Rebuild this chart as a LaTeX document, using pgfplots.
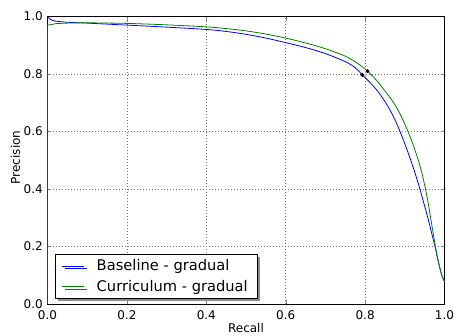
\documentclass[border=0pt]{standalone}
\usepackage{fontspec}
\setmainfont{DejaVu Sans}
\usepackage{pgfplots}
\pgfplotsset{compat=1.18}
\usetikzlibrary{shadows}
\definecolor{mplblue}{rgb}{0,0,1}
\definecolor{mplgreen}{rgb}{0,0.5,0}
\begin{document}
\begin{tikzpicture}
\begin{axis}[
  scale only axis,
  width=297.75pt, height=215.6pt,
  xmin=0, xmax=1, ymin=0, ymax=1,
  xtick={0,0.2,0.4,0.6,0.8,1.0},
  ytick={0,0.2,0.4,0.6,0.8,1.0},
  xticklabels={0.0,0.2,0.4,0.6,0.8,1.0},
  yticklabels={0.0,0.2,0.4,0.6,0.8,1.0},
  /pgf/number format/assume math mode=true,
  tick label style={font=\fontsize{9}{11}\selectfont},
  xticklabel style={yshift=-1.2pt},
  label style={font=\fontsize{9}{11}\selectfont},
  xlabel={Recall}, ylabel={Precision},
  xlabel style={at={(axis description cs:0.5,-0.0835)},anchor=center},
  ylabel style={at={(axis description cs:-0.0806,0.51)},anchor=center},
  grid=major,
  major grid style={black!55, line width=0.5pt, dash pattern=on 0.75pt off 1.5pt},
  tick align=inside,
  major tick length=3pt,
  axis line style={black, line width=0.6pt},
  legend style={at={(axis description cs:0.0189,0.0174)}, anchor=south west,
    draw=black, fill=white, line width=0.6pt,
    drop shadow={shadow xshift=1.8pt, shadow yshift=-1.8pt, fill=black!45, opacity=1},
    font=\fontsize{11}{13}\selectfont, inner xsep=5pt, inner ysep=2pt,
    row sep=1.5pt, column sep=7pt},
  legend cell align=left,
  legend image code/.code={\draw[#1, line width=0.5pt] (0pt,0pt) -- (16.5pt,0pt);},
]
\addplot[mplblue, line width=0.6pt, smooth, tension=0.5] coordinates {
(0,1.0) (0.004,0.994) (0.01,0.988) (0.02,0.984) (0.05,0.980) (0.1,0.977)
(0.2,0.970) (0.3,0.963) (0.4,0.955) (0.45,0.948) (0.5,0.938) (0.55,0.925)
(0.6,0.909) (0.65,0.892) (0.7,0.871) (0.75,0.843) (0.775,0.822) (0.793,0.797) (0.826,0.75)
(0.852,0.70) (0.872,0.65) (0.888,0.60) (0.902,0.55) (0.915,0.50) (0.927,0.45) (0.938,0.40)
(0.948,0.35) (0.958,0.30) (0.967,0.25) (0.976,0.20) (0.984,0.15) (0.993,0.10) (1.0,0.078)
};
\addlegendentry{Baseline - gradual}
\addplot[mplgreen, line width=0.6pt, smooth, tension=0.5] coordinates {
(0,0.970) (0.01,0.972) (0.02,0.975) (0.05,0.977) (0.1,0.978)
(0.2,0.976) (0.3,0.971) (0.4,0.964) (0.45,0.958) (0.5,0.950) (0.55,0.939)
(0.6,0.925) (0.65,0.908) (0.7,0.888) (0.75,0.862) (0.78,0.838) (0.806,0.810) (0.83,0.776) (0.845,0.75)
(0.872,0.70) (0.892,0.65) (0.908,0.60) (0.922,0.55) (0.934,0.50) (0.944,0.45) (0.952,0.40)
(0.959,0.35) (0.965,0.30) (0.971,0.25) (0.977,0.20) (0.984,0.15) (0.993,0.10) (1.0,0.078)
};
\addlegendentry{Curriculum - gradual}
\addplot[mplblue, line width=0.6pt, forget plot] coordinates {(0,0) (0,1.0)};
\addplot[mplgreen, line width=0.6pt, forget plot] coordinates {(0,0) (0,0.970)};
\addplot[only marks, mark=*, mark size=1.3pt, black, forget plot] coordinates {(0.793,0.797) (0.806,0.810)};
\coordinate (bbl) at (rel axis cs:-0.1196,-0.1113);
\coordinate (btr) at (rel axis cs:1.0239,1.0574);
\end{axis}
\pgfresetboundingbox
\path[use as bounding box] (bbl) rectangle (btr);
\end{tikzpicture}
\end{document}
